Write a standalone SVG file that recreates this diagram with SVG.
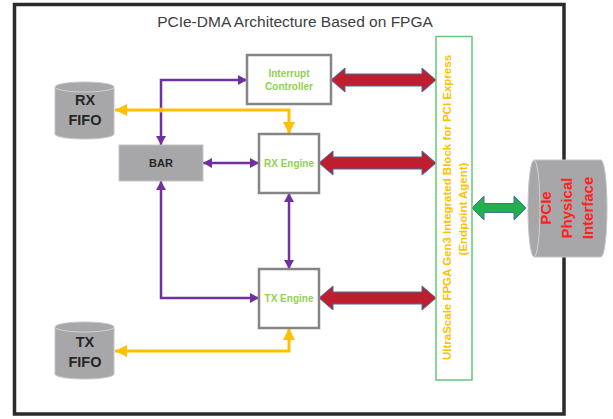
<svg xmlns="http://www.w3.org/2000/svg" width="613" height="419" viewBox="0 0 613 419">
<style>
  .frame{fill:#fff;stroke:#2b2b2b;stroke-width:3.5}
  .box{fill:#fff;stroke:#858585;stroke-width:2.5}
  .gray{fill:#a7a7aa;stroke:#c4c4c6;stroke-width:1}
  .cyltop{fill:none;stroke:#d2d2d4;stroke-width:1}
  .lbl{font-family:"Liberation Sans",Arial,sans-serif;font-weight:bold}
  .grn{fill:#92d050;font-size:10px}
  .dark{fill:#262626}
  .org{fill:#ffc000;font-size:11.5px}
  .red{fill:#ff2222;font-size:15px}
  .fat{fill:#be1e2d;stroke:#41719c;stroke-width:1}
  .fatg{fill:#22b04c;stroke:#41719c;stroke-width:1}
  .pur{fill:none;stroke:#7030a0;stroke-width:2.5}
  .yel{fill:none;stroke:#ffc000;stroke-width:3}
</style>
<defs>
  <marker id="ap" viewBox="0 0 10 10" refX="10" refY="5" markerUnits="userSpaceOnUse" markerWidth="9" markerHeight="10" preserveAspectRatio="none" orient="auto-start-reverse">
    <path d="M0,0 L10,5 L0,10 Z" fill="#7030a0"/>
  </marker>
  <marker id="ay" viewBox="0 0 10 10" refX="10" refY="5" markerUnits="userSpaceOnUse" markerWidth="12" markerHeight="12" preserveAspectRatio="none" orient="auto-start-reverse">
    <path d="M0,0 L10,5 L0,10 Z" fill="#ffc000"/>
  </marker>
</defs>

<rect class="frame" x="14.5" y="4.5" width="549.5" height="409.5"/>
<text class="title" x="295" y="27" text-anchor="middle" font-family="'Liberation Sans',Arial,sans-serif" font-size="15.5" fill="#404040">PCIe-DMA Architecture Based on FPGA</text>

<g id="connectors">
  <path class="pur" d="M247,80 H161 V145" marker-start="url(#ap)" marker-end="url(#ap)"/>
  <path class="pur" d="M203,163 H259" marker-start="url(#ap)" marker-end="url(#ap)"/>
  <path class="pur" d="M289,193 V269" marker-start="url(#ap)" marker-end="url(#ap)"/>
  <path class="pur" d="M161,181 V298 H259" marker-start="url(#ap)" marker-end="url(#ap)"/>
  <path class="yel" d="M115,110 H289 V134" marker-start="url(#ay)" marker-end="url(#ay)"/>
  <circle cx="161" cy="110" r="2.5" fill="#ffc000"/>
  <path class="yel" d="M115,351 H289 V328" marker-start="url(#ay)" marker-end="url(#ay)"/>
  <polygon class="fat" points="331,80 345,68 345,74 422,74 422,68 436,80 422,92 422,86 345,86 345,92"/>
  <polygon class="fat" points="319,163 333,151 333,157 422,157 422,151 436,163 422,175 422,169 333,169 333,175"/>
  <polygon class="fat" points="319,298 333,286 333,292 422,292 422,286 436,298 422,310 422,304 333,304 333,310"/>
  <polygon class="fatg" points="472,208 484,196 484,203.5 514,203.5 514,196 526,208 514,220 514,212.5 484,212.5 484,220"/>
</g>

<g id="rxfifo">
  <path class="gray" d="M55,87 A29.5,5 0 0 1 114,87 V134 A29.5,5 0 0 1 55,134 Z"/>
  <path class="cyltop" d="M55,87 A29.5,5 0 0 0 114,87"/>
  <text class="lbl dark" x="85" y="105" text-anchor="middle" font-size="14.5">RX</text>
  <text class="lbl dark" x="85" y="125" text-anchor="middle" font-size="14.5">FIFO</text>
</g>
<g id="txfifo">
  <path class="gray" d="M55,327 A29.5,5 0 0 1 114,327 V374 A29.5,5 0 0 1 55,374 Z"/>
  <path class="cyltop" d="M55,327 A29.5,5 0 0 0 114,327"/>
  <text class="lbl dark" x="85" y="347" text-anchor="middle" font-size="14.5">TX</text>
  <text class="lbl dark" x="85" y="367" text-anchor="middle" font-size="14.5">FIFO</text>
</g>
<g id="bar">
  <rect class="gray" x="119" y="145" width="84" height="36"/>
  <text class="lbl dark" x="161" y="167" text-anchor="middle" font-size="11">BAR</text>
</g>
<g id="interrupt">
  <rect class="box" x="247" y="55" width="84" height="49"/>
  <text class="lbl grn" x="289" y="77" text-anchor="middle">Interrupt</text>
  <text class="lbl grn" x="289" y="90" text-anchor="middle">Controller</text>
</g>
<g id="rxengine">
  <rect class="box" x="259" y="134" width="60" height="59"/>
  <text class="lbl grn" x="289" y="166.5" text-anchor="middle">RX Engine</text>
</g>
<g id="txengine">
  <rect class="box" x="259" y="269" width="60" height="59"/>
  <text class="lbl grn" x="289" y="301.5" text-anchor="middle">TX Engine</text>
</g>
<g id="pcieblock">
  <rect x="436" y="36.5" width="36" height="343.5" fill="#fff" stroke="#62c97a" stroke-width="1.5"/>
  <text class="lbl org" transform="translate(450.5,207.5) rotate(-90)" text-anchor="middle">UltraScale FPGA Gen3 Integrated Block for PCI Express</text>
  <text class="lbl org" transform="translate(466.5,209) rotate(-90)" text-anchor="middle">(Endpoint Agent)</text>
</g>
<g id="phy">
  <path class="gray" d="M534,160 H601 A6,48.5 0 0 1 601,257 H534 A6,48.5 0 0 1 534,160 Z"/>
  <path class="cyltop" d="M534,160 A6,48.5 0 0 1 534,257"/>
  <text class="lbl red" transform="translate(550.5,208) rotate(-90)" text-anchor="middle">PCIe</text>
  <text class="lbl red" transform="translate(571.5,208) rotate(-90)" text-anchor="middle">Physical</text>
  <text class="lbl red" transform="translate(592.5,208) rotate(-90)" text-anchor="middle">Interface</text>
</g>
</svg>
